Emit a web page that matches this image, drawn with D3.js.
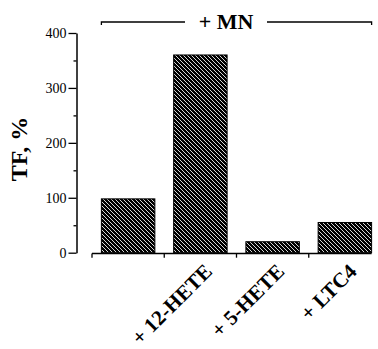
<!DOCTYPE html>
<html><head><meta charset="utf-8">
<script src="https://cdn.jsdelivr.net/npm/d3@7"></script>
<style>
html,body{margin:0;padding:0;background:#fff;}
svg{display:block;}
</style>
</head><body>
<svg id="chart" width="378" height="349"></svg>
<script>
const categories = ["", "+ 12-HETE", "+ 5-HETE", "+ LTC4"];
const values = [98, 360, 20, 55];
const majorTicks = [0, 100, 200, 300, 400];
const minorTicks = [50, 150, 250, 350];
const yLabel = "TF, %";
const groupLabel = "+ MN";

const svg = d3.select("#chart");
const serif = "'Liberation Serif', 'Times New Roman', serif";

const defs = svg.append("defs");
const pat = defs.append("pattern").attr("id", "hatch")
  .attr("patternUnits", "userSpaceOnUse").attr("width", 4).attr("height", 4);
pat.append("rect").attr("width", 4).attr("height", 4).attr("fill", "#000");
pat.selectAll("line").data([[0,0,4,4],[-1,3,1,5],[3,-1,5,1]]).join("line")
  .attr("x1", d => d[0]).attr("y1", d => d[1]).attr("x2", d => d[2]).attr("y2", d => d[3])
  .attr("stroke", "#fff").attr("stroke-width", 0.85);

const y = d3.scaleLinear().domain([0, 400]).range([252.7, 33]);
const x = d3.scaleBand().domain(categories).range([92, 381]).paddingInner(0.26).paddingOuter(0.13);

// bars
svg.append("g").selectAll("rect").data(values).join("rect")
  .attr("x", (d, i) => x(categories[i]))
  .attr("y", d => y(d))
  .attr("width", x.bandwidth())
  .attr("height", d => y(0) - y(d))
  .attr("fill", "url(#hatch)")
  .attr("stroke", "#000").attr("stroke-width", 1);

// y axis
const yAxis = svg.append("g").attr("transform", "translate(76.5,0)")
  .call(d3.axisLeft(y).tickValues(majorTicks).tickSize(8).tickSizeOuter(0).tickPadding(2));
yAxis.select(".domain").attr("stroke-width", 1.5);
yAxis.selectAll(".tick line").attr("stroke-width", 1.3);
yAxis.selectAll(".tick text").attr("font-family", serif).attr("font-size", 14).attr("fill", "#000");
const yMinor = svg.append("g").attr("transform", "translate(76.5,0)")
  .call(d3.axisLeft(y).tickValues(minorTicks).tickSize(3).tickSizeOuter(0).tickFormat(""));
yMinor.select(".domain").remove();
yMinor.selectAll(".tick line").attr("stroke-width", 1.3);

// x axis line & ticks at band boundaries
const half = x.step() * x.paddingInner() / 2;
const xStart = x(categories[0]) - half;
const xEnd = x(categories[categories.length - 1]) + x.bandwidth();
svg.append("line").attr("x1", xStart).attr("x2", xEnd)
  .attr("y1", y(0) + 0.8).attr("y2", y(0) + 0.8)
  .attr("stroke", "#000").attr("stroke-width", 1.5);
svg.append("g").selectAll("line").data(categories).join("line")
  .attr("x1", d => x(d) - half).attr("x2", d => x(d) - half)
  .attr("y1", y(0) + 0.8).attr("y2", y(0) + 5)
  .attr("stroke", "#000").attr("stroke-width", 1.3);

// category labels
svg.append("g").selectAll("text").data(categories).join("text")
  .attr("transform", d => `translate(${x(d) + x.bandwidth() / 2 + 13},${y(0) + 20}) rotate(-45)`)
  .attr("text-anchor", "end")
  .attr("font-family", serif).attr("font-weight", "bold").attr("font-size", 21)
  .text(d => d);

// y label
svg.append("text").attr("transform", "translate(27,149) rotate(-90)")
  .attr("text-anchor", "middle").attr("font-family", serif)
  .attr("font-weight", "bold").attr("font-size", 24).text(yLabel);

// group bracket
const bx1 = x(categories[0]), bx2 = xEnd, by = 22;
const gMid = 226;
svg.append("path")
  .attr("d", `M${bx1},${by + 3}V${by}H${gMid - 41}M${gMid + 41},${by}H${bx2}V${by + 3}`)
  .attr("fill", "none").attr("stroke", "#000").attr("stroke-width", 1.3);
svg.append("text").attr("x", gMid).attr("y", 28.5).attr("text-anchor", "middle")
  .attr("font-family", serif).attr("font-weight", "bold").attr("font-size", 22).text(groupLabel);
</script>
</body></html>
